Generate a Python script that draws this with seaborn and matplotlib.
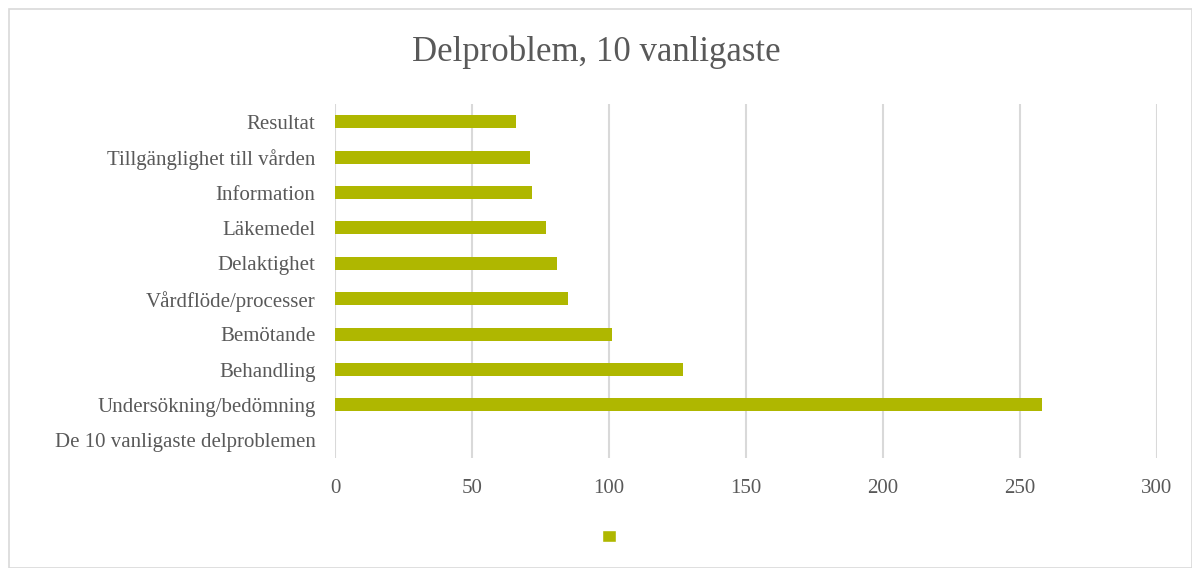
import matplotlib.pyplot as plt
import pandas as pd
import seaborn as sns
from matplotlib.patches import Patch, Rectangle

categories = [
    'Resultat',
    'Tillgänglighet till vården',
    'Information',
    'Läkemedel',
    'Delaktighet',
    'Vårdflöde/processer',
    'Bemötande',
    'Behandling',
    'Undersökning/bedömning',
    'De 10 vanligaste delproblemen',
]
counts = [66, 71, 72, 77, 81, 85, 101, 127, 258, None]
x_ticks = [0, 50, 100, 150, 200, 250, 300]

bar_color = '#AFB700'
text_color = '#595959'

sns.set_theme(style='white')
plt.rcParams['font.family'] = ['Liberation Serif', 'DejaVu Serif']

data = pd.DataFrame({'Kategori': categories, 'Antal': counts})

figure = plt.figure(figsize=(11.92, 5.68), dpi=100)
axis = figure.add_axes([335 / 1192, 1 - 458 / 568, (1157 - 335) / 1192, (458 - 104) / 568])

sns.barplot(data=data, x='Antal', y='Kategori', order=categories, color=bar_color,
            width=0.37, orient='h', saturation=1, linewidth=0, ax=axis)

axis.set_xlim(0, 300)
axis.set_xticks(x_ticks)
axis.set_xlabel('')
axis.set_ylabel('')
axis.grid(axis='x', color='#d9d9d9', linewidth=1.5)
axis.set_axisbelow(True)
for spine in axis.spines.values():
    spine.set_visible(False)
axis.tick_params(axis='x', length=0, pad=15, labelsize=15, labelcolor=text_color)
axis.tick_params(axis='y', length=0, pad=14, labelsize=15, labelcolor=text_color)

figure.text(0.5, 1 - 52 / 568, 'Delproblem, 10 vanligaste', ha='center', va='center',
            fontsize=25, color=text_color)

figure.legend(handles=[Patch(facecolor=bar_color)], labels=[''], loc='center',
              bbox_to_anchor=(609 / 1192, 1 - 537 / 568), frameon=False,
              handlelength=0.9, handleheight=0.9, handletextpad=0)

figure.patches.append(Rectangle((9 / 1192, 0), 1 - 9 / 1192, 1 - 9 / 568,
                                transform=figure.transFigure, fill=False,
                                edgecolor='#d9d9d9', linewidth=1.2))

figure.savefig('out.png', dpi=100)
